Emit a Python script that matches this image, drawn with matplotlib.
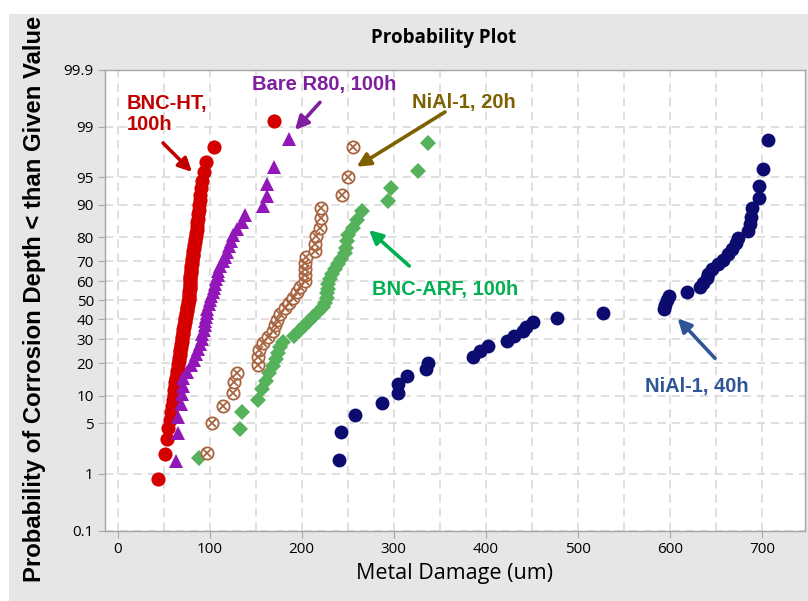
#!/usr/bin/env python
# coding=utf-8

from statistics import NormalDist

import numpy as np
import matplotlib
matplotlib.use('Agg')
import matplotlib.pyplot as plt
from matplotlib.patches import Rectangle
from matplotlib.ticker import MultipleLocator

#  Metal damage in um per coupon, sorted ascending
bnc_ht_100h = [44.4, 51.5, 53.4, 54.9, 56.7, 57.9, 58.9, 60.0, 60.8, 61.4,
               62.0, 62.6, 63.4, 64.1, 64.7, 65.3, 65.8, 66.4, 67.0, 67.6,
               68.0, 68.3, 68.7, 69.1, 69.5, 69.8, 70.3, 70.7, 71.1, 71.5,
               71.9, 72.4, 72.8, 73.3, 73.7, 74.1, 74.5, 74.9, 75.3, 75.9,
               76.4, 77.0, 77.6, 77.7, 77.8, 77.9, 78.0, 78.2, 78.3, 78.4,
               78.6, 78.7, 78.9, 79.2, 79.4, 79.7, 79.9, 80.2, 80.4, 80.8,
               81.2, 81.6, 82.0, 82.4, 82.9, 83.3, 83.8, 84.4, 84.9, 85.5,
               86.0, 86.4, 86.8, 87.2, 87.6, 88.1, 88.6, 89.2, 89.9, 90.6,
               91.6, 93.7, 96.6, 104.8, 170.0]

bare_r80_100h = [63.5, 65.4, 66.0, 68.4, 69.7, 70.8, 71.4, 75.1, 80.3, 83.1,
                 85.2, 87.7, 89.6, 91.4, 92.0, 93.4, 95.0, 95.5, 96.6, 97.2,
                 97.5, 98.8, 100.4, 102.0, 104.0, 104.8, 105.9, 107.0, 108.6,
                 109.4, 111.3, 114.0, 116.2, 118.6, 121.1, 122.7, 125.7,
                 129.4, 134.9, 138.4, 158.3, 162.0, 162.5, 170.0, 186.5]

nial1_20h = [96.9, 102.9, 114.2, 125.7, 126.0, 129.4, 152.9, 153.0, 153.2,
             158.3, 163.4, 168.8, 171.0, 173.7, 176.4, 181.9, 186.2, 190.6,
             194.9, 198.2, 203.6, 203.7, 203.8, 203.9, 204.7, 214.4, 214.5,
             215.5, 219.9, 220.6, 220.7, 243.4, 250.6, 255.4]

bnc_arf_100h = [88.3, 133.3, 135.5, 152.9, 156.6, 160.7, 165.0, 168.8, 172.0,
                174.3, 176.4, 179.7, 191.6, 197.0, 202.0, 207.4, 212.6, 217.7,
                222.6, 225.3, 227.0, 227.5, 228.3, 229.0, 230.7, 232.4, 236.2,
                238.9, 242.7, 246.5, 247.6, 249.2, 250.8, 255.2, 260.0, 265.2,
                294.0, 296.6, 326.6, 337.5]

nial1_40h = [240.5, 242.3, 257.9, 286.9, 304.2, 305.0, 314.0, 335.0, 337.5,
             385.7, 393.6, 402.0, 422.6, 430.8, 440.6, 443.5, 450.8, 476.9,
             527.5, 593.5, 595.0, 597.0, 598.5, 618.5, 632.5, 636.0, 640.0,
             641.5, 645.0, 652.0, 658.0, 663.0, 667.0, 672.0, 674.0, 685.0,
             687.0, 687.5, 688.6, 696.5, 697.0, 700.5, 706.6]

prob_ticks = [0.1, 1, 5, 10, 20, 30, 40, 50, 60, 70, 80, 90, 95, 99, 99.9]
prob_tick_labels = ['0.1', '1', '5', '10', '20', '30', '40', '50', '60',
                    '70', '80', '90', '95', '99', '99.9']

_nd = NormalDist()
_ppf = np.vectorize(_nd.inv_cdf, otypes=[float])
_cdf = np.vectorize(_nd.cdf, otypes=[float])


def prob_forward(p):
    p = np.clip(np.asarray(p, dtype=float) / 100., 1e-12, 1 - 1e-12)
    return _ppf(p)


def prob_inverse(z):
    return _cdf(np.asarray(z, dtype=float)) * 100.


def median_ranks(values):
    #  Benard approximation of the median rank in percent
    n = len(values)
    i = np.arange(1, n + 1)
    return (i - 0.3) / (n + 0.4) * 100.


def add_label(ax, text, xy_text, xy_head, xy_tail, color):
    ax.annotate('', xy=xy_head, xytext=xy_tail,
                xycoords='axes fraction', textcoords='axes fraction',
                arrowprops=dict(arrowstyle='-|>', lw=2.6, color=color,
                                mutation_scale=20, shrinkA=0, shrinkB=0))
    ax.text(xy_text[0], xy_text[1], text, transform=ax.transAxes,
            ha='left', va='top', color=color, fontsize=14.5,
            fontweight='bold', family='Liberation Sans', linespacing=1.15)


def make_prob_plot(output_file='out.png', dpi=100):

    plt.rc('font', family='Open Sans', size=11)

    fig = plt.figure(figsize=(8.08, 6.01), dpi=dpi, facecolor='white')

    #  Grey panel behind the axes
    fig.patches.append(Rectangle((9. / 808, 0), 1, 1 - 14. / 601,
                                 transform=fig.transFigure,
                                 facecolor='#e6e6e6', edgecolor='none',
                                 zorder=-10))

    ax = fig.add_axes([105. / 808, 70. / 601, 700. / 808, 461.5 / 601])
    ax.set_facecolor('white')

    ax.set_yscale('function', functions=(prob_forward, prob_inverse))

    ax.plot(np.sort(bnc_ht_100h), median_ranks(bnc_ht_100h),
            linestyle='none', marker='o', markersize=10.2, mew=0,
            color='#d40000', zorder=3)
    ax.plot(np.sort(bare_r80_100h), median_ranks(bare_r80_100h),
            linestyle='none', marker='^', markersize=10.6, mew=0,
            color='#9316b8', zorder=3)
    ax.plot(np.sort(bnc_arf_100h), median_ranks(bnc_arf_100h),
            linestyle='none', marker='D', markersize=8.0, mew=0,
            color='#55b15a', zorder=3)
    #  Circle with a cross for NiAl-1 20h
    ax.plot(np.sort(nial1_20h), median_ranks(nial1_20h),
            linestyle='none', marker='o', markersize=8.8, mew=1.3,
            mfc='white', mec='#a8643f', zorder=3)
    ax.plot(np.sort(nial1_20h), median_ranks(nial1_20h),
            linestyle='none', marker='x', markersize=6.0, mew=1.3,
            color='#a8643f', zorder=3)
    ax.plot(np.sort(nial1_40h), median_ranks(nial1_40h),
            linestyle='none', marker='o', markersize=10.0, mew=0,
            color='#0b0b70', zorder=3)

    ax.set_xlim(-13.6, 746.5)
    ax.set_ylim(0.1, 99.9)
    ax.set_yticks(prob_ticks)
    ax.set_yticklabels(prob_tick_labels)
    ax.yaxis.set_minor_locator(matplotlib.ticker.NullLocator())
    ax.xaxis.set_major_locator(MultipleLocator(100))
    ax.xaxis.set_minor_locator(MultipleLocator(50))

    ax.grid(True, which='both', color='#d9d9d9', linestyle=(0, (5, 3.5)),
            linewidth=1.2, zorder=0)
    ax.set_axisbelow(True)

    for sp in ax.spines.values():
        sp.set_color('#a6a6a6')
        sp.set_linewidth(1.0)
    ax.tick_params(which='major', length=5, color='#a6a6a6',
                   labelsize=11, labelcolor='black', pad=3)
    ax.tick_params(which='minor', length=0)

    ax.set_xlabel('Metal Damage (um)', fontsize=15.5, labelpad=4)
    fig.text(35. / 808, 1 - 299. / 601,
             'Probability of Corrosion Depth < than Given Value',
             rotation=90, ha='center', va='center', fontsize=17.2,
             fontweight='bold', family='Liberation Sans')
    fig.text(444. / 808, 1 - 38. / 601, 'Probability Plot',
             ha='center', va='center', fontsize=13.5, fontweight='bold')

    #  Series labels with arrows
    add_label(ax, 'BNC-HT,\n100h', (0.031, 0.9465),
              (0.1243, 0.7779), (0.0829, 0.8407), '#c00000')
    add_label(ax, 'Bare R80, 100h', (0.2096, 0.9884),
              (0.2714, 0.8689), (0.3071, 0.9289), '#7f1fa0')
    add_label(ax, 'NiAl-1, 20h', (0.4386, 0.9494),
              (0.3596, 0.7894), (0.4857, 0.9079), '#7f6000')
    add_label(ax, 'BNC-ARF, 100h', (0.3810, 0.5442),
              (0.3771, 0.6522), (0.4347, 0.5742), '#00b050')
    add_label(ax, 'NiAl-1, 40h', (0.7714, 0.3347),
              (0.8181, 0.4609), (0.8714, 0.3742), '#2f5597')

    plt.savefig(output_file, dpi=dpi, facecolor=fig.get_facecolor())
    plt.close()


if __name__ == '__main__':
    make_prob_plot()
